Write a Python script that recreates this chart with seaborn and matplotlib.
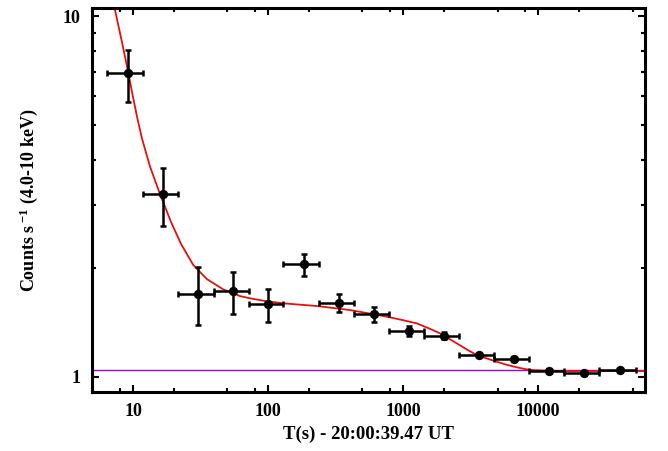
import numpy as np
import matplotlib
matplotlib.use("Agg")
import matplotlib.pyplot as plt
import matplotlib.ticker as mticker
import seaborn as sns

# light curve bins (time since trigger, s) and count rates
t_mid = [9.14, 16.8, 30.5, 54.8, 100.5, 184, 337, 610, 1102, 2014, 3673, 6673, 12060, 21920, 40000]
t_lo = [6.38, 11.76, 21.5, 39.5, 71.7, 130, 237, 434, 787, 1423, 2589, 4707, 8572, 15590, 28440]
t_hi = [11.76, 21.5, 39.5, 71.7, 130, 237, 434, 787, 1423, 2589, 4707, 8572, 15590, 28440, 53200]
rate = [6.95, 3.21, 1.70, 1.73, 1.59, 2.05, 1.60, 1.49, 1.34, 1.30, 1.15, 1.12, 1.038, 1.021, 1.042]
rate_lo = [5.80, 2.62, 1.39, 1.49, 1.42, 1.905, 1.507, 1.42, 1.296, 1.269, 1.138, 1.11, 1.03, 1.013, 1.034]
rate_hi = [8.07, 3.79, 2.02, 1.95, 1.754, 2.19, 1.695, 1.563, 1.38, 1.332, 1.162, 1.13, 1.046, 1.029, 1.05]

# model curve
model_t = [7.17, 7.36, 8.22, 9.23, 10.0, 10.8, 11.66, 13.36, 15.85, 19.12, 22.68, 27.97, 35.16,
           46.7, 62.0, 73.6, 95.0, 129.8, 229.5, 405, 714, 950, 1262, 1531, 1879, 2500, 2965,
           3516, 4943, 5860, 6951, 8010, 9226, 13770, 62000]
model_rate = [10.97, 10.42, 8.61, 6.98, 5.97, 5.19, 4.58, 3.83, 3.21, 2.687, 2.334, 2.040, 1.866,
              1.745, 1.673, 1.649, 1.621, 1.597, 1.570, 1.530, 1.473, 1.440, 1.405, 1.364, 1.318,
              1.236, 1.189, 1.147, 1.099, 1.078, 1.061, 1.049, 1.042, 1.036, 1.036]

background = 1.04

sns.set_style("ticks")
plt.rcParams["font.family"] = ["Liberation Serif", "DejaVu Serif"]
plt.rcParams["font.weight"] = "bold"
plt.rcParams["mathtext.fontset"] = "custom"
plt.rcParams["mathtext.rm"] = "Liberation Serif:bold"
plt.rcParams["mathtext.bf"] = "Liberation Serif:bold"
plt.rcParams["mathtext.default"] = "bf"
plt.rcParams["text.color"] = "black"
plt.rcParams["axes.labelcolor"] = "black"
plt.rcParams["xtick.color"] = "black"
plt.rcParams["ytick.color"] = "black"

fig = plt.figure(figsize=(6.68, 4.51), dpi=100)
ax = fig.add_axes([0.1377, 0.1308, 0.8279, 0.8514])

t = np.array(t_mid)
r = np.array(rate)
xerr = [t - np.array(t_lo), np.array(t_hi) - t]
yerr = [r - np.array(rate_lo), np.array(rate_hi) - r]

ax.axhline(background, color="#9b00e0", lw=1.0, zorder=1)
sns.lineplot(x=model_t, y=model_rate, ax=ax, color="#e8100c", lw=1.3, zorder=2, sort=False)
ax.errorbar(t, r, xerr=xerr, yerr=yerr, fmt="none", ecolor="black", elinewidth=1.8,
            capsize=2.5, capthick=1.8, zorder=3)
sns.scatterplot(x=t, y=r, ax=ax, color="black", s=45, edgecolor="black", linewidth=0, zorder=4)

ax.set_xscale("log")
ax.set_yscale("log")
ax.set_xlim(4.97, 61800)
ax.set_ylim(0.906, 10.55)

ax.xaxis.set_major_locator(mticker.FixedLocator([10, 100, 1000, 10000]))
ax.xaxis.set_major_formatter(mticker.FixedFormatter(["10", "100", "1000", "10000"]))
ax.xaxis.set_minor_locator(mticker.LogLocator(base=10, subs=[2, 5, 8]))
ax.xaxis.set_minor_formatter(mticker.NullFormatter())
ax.yaxis.set_major_locator(mticker.FixedLocator([1, 10]))
ax.yaxis.set_major_formatter(mticker.FixedFormatter(["1", "10"]))
ax.yaxis.set_minor_locator(mticker.LogLocator(base=10, subs=np.arange(2, 10)))
ax.yaxis.set_minor_formatter(mticker.NullFormatter())

ax.tick_params(which="both", direction="in", top=True, right=True, width=1.5,
               colors="black", labelcolor="black")
ax.tick_params(which="major", length=5, labelsize=13, pad=8)
ax.tick_params(which="minor", length=3)
for lab in ax.get_xticklabels() + ax.get_yticklabels():
    lab.set_fontweight("bold")

for side in ["left", "right", "top", "bottom"]:
    ax.spines[side].set_linewidth(2.2)
    ax.spines[side].set_color("black")

ax.set_xlabel("T(s) - 20:00:39.47 UT", fontsize=13.5, fontweight="bold", color="black")
ax.set_ylabel(r"Counts s$\,^{-1}$ (4.0-10 keV)", fontsize=13, fontweight="bold", color="black")
ax.xaxis.set_label_coords(0.5, -0.089)
ax.yaxis.set_label_coords(-0.094, 0.5)

fig.savefig("out.png", dpi=100)
